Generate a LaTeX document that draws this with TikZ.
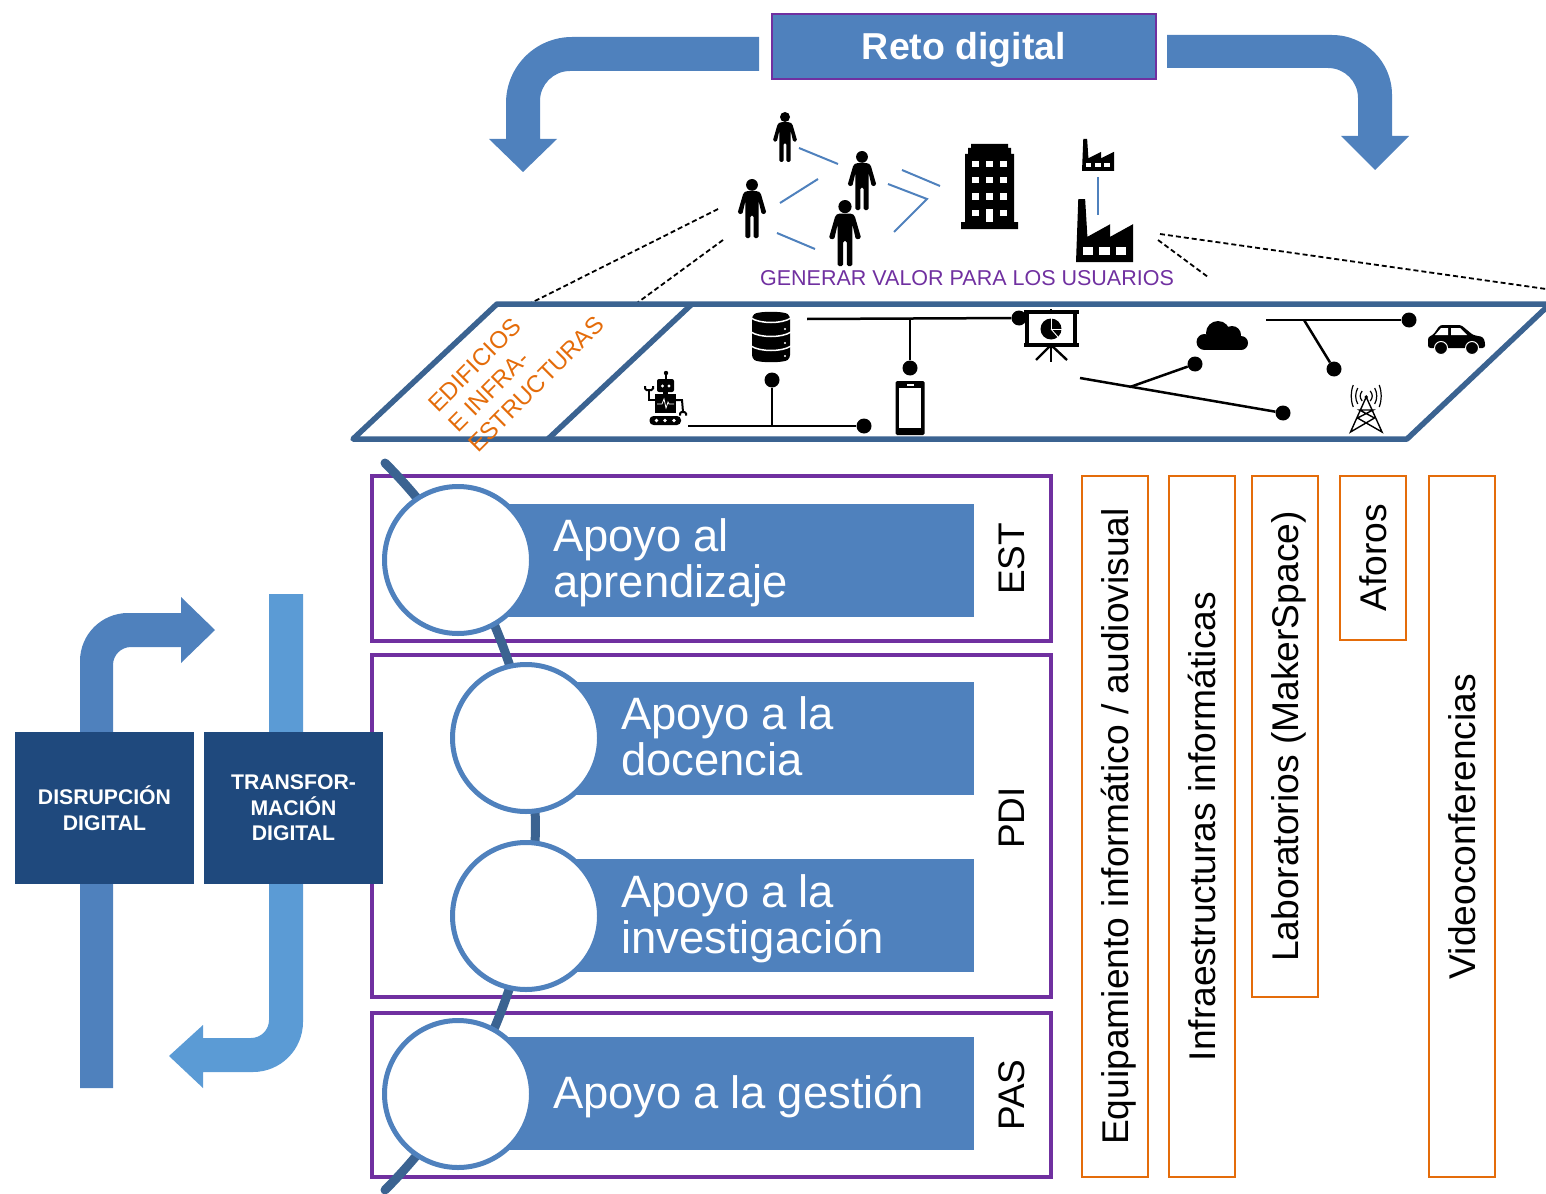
\documentclass[tikz,border=0pt]{standalone}
\usepackage{fontspec}
\setmainfont{Liberation Sans}
\definecolor{retoblue}{HTML}{4F81BD}
\definecolor{lightblue}{HTML}{5B9BD5}
\definecolor{darkblue}{HTML}{1F497D}
\definecolor{edgeblue}{HTML}{3B6391}
\definecolor{framepurple}{HTML}{7030A0}
\definecolor{boxorange}{HTML}{E46C0A}
\newcommand{\apoyofont}{\fontsize{45.4}{46}\selectfont\spaceskip 0.26em\relax}
\tikzset{
	retobox/.style={draw=framepurple,line width=1.5pt,fill=retoblue,text=white,font=\fontsize{37.5}{37.5}\selectfont\bfseries,minimum width=384pt,minimum height=65pt,text height=27pt,text depth=0pt},
	darkbox/.style={fill=darkblue,text=white,font=\fontsize{21.2}{25.5}\selectfont\bfseries,align=center,minimum width=179pt,minimum height=152pt,inner sep=0pt},
	groupframe/.style={draw=framepurple,line width=4.5pt,minimum width=679pt},
	grouplabel/.style={rotate=90,font=\fontsize{37}{37}\selectfont},
	apoyobar/.style={fill=retoblue,anchor=west,minimum height=113pt,inner sep=0pt},
	apoyotext/.style={text=white,font=\apoyofont,align=left,anchor=west,inner sep=0pt},
	apoyocircle/.style={circle,draw=retoblue,line width=5pt,fill=white,minimum size=147pt,inner sep=0pt},
	servicebox/.style={draw=boxorange,line width=2pt,fill=white,rotate=90,font=\fontsize{37.2}{37.2}\selectfont,minimum height=66pt,inner sep=0pt,text height=27pt,text depth=0pt},
	netdot/.style={circle,fill=black,minimum size=15pt,inner sep=0pt},
	netline/.style={line width=2.5pt},
	userlink/.style={draw=retoblue,line width=2pt},
	dashlink/.style={line width=1.8pt,dash pattern=on 5pt off 3pt},
	person/.pic={
		\fill (0,0.1) circle (0.1);
		\fill[rounded corners=1.5pt] (-0.10,0.205) -- (0.10,0.205) -- (0.145,0.235) -- (0.245,0.58) -- (0.165,0.60) -- (0.112,0.37) -- (0.112,1) -- (0.028,1) -- (0.028,0.62) -- (-0.028,0.62) -- (-0.028,1) -- (-0.112,1) -- (-0.112,0.37) -- (-0.165,0.60) -- (-0.245,0.58) -- (-0.145,0.235) -- cycle;
	},
	factory/.pic={
		\fill (0,1) -- (0.04,0) -- (0.16,0) -- (0.2,0.6) -- (0.6,0.4) -- (0.6,0.6) -- (1,0.4) -- (1,1) -- cycle;
		\fill[white] (0.12,0.76) rectangle (0.29,0.89);
		\fill[white] (0.41,0.76) rectangle (0.59,0.89);
		\fill[white] (0.70,0.76) rectangle (0.88,0.89);
	},
	building/.pic={
		\fill (0,85) -- (0,78) -- (4,78) -- (4,10) -- (7,10) -- (7,4) -- (10,4) -- (10,0) -- (47,0) -- (47,4) -- (50,4) -- (50,10) -- (53,10) -- (53,78) -- (57,78) -- (57,85) -- cycle;
		\foreach \wx in {11,25,39} \foreach \wy in {17,33,49}
			\fill[white] (\wx,\wy) rectangle ++(6.5,6.5);
		\fill[white] (11,66) rectangle (17.5,72);
		\fill[white] (39,66) rectangle (45.5,72);
		\fill[white] (25,65) rectangle (31.5,78);
	},
	database/.pic={
		\fill[rounded corners=3pt] (0,4) .. controls (6,-1) and (32,-1) .. (38,4) -- (38,46) .. controls (32,51) and (6,51) .. (0,46) -- cycle;
		\foreach \gy in {6,20,34}
			\draw[white,line width=1.5pt] (-1,\gy) .. controls (8,\gy+6) and (30,\gy+6) .. (39,\gy);
		\foreach \gy in {17,31,44}
			\fill[white] (33,\gy) circle (1.2);
	},
	robot/.pic={
		\fill (22,2) circle (2.2);
		\draw[line width=1.2pt] (22,2) -- (22,8);
		\fill[rounded corners=2pt] (13,8) rectangle (30,21);
		\fill[white] (18.5,15) circle (1.6) (25,15) circle (1.6);
		\fill (19,21) rectangle (24,23);
		\fill (11,23) rectangle (32,42);
		\draw[white,line width=0.8pt] (13,33) -- (18,33) -- (20,28) -- (22,37) -- (24,31) -- (25,33) -- (30,33);
		\draw[line width=2pt] (11,29) -- (5,29) -- (5,19);
		\draw[line width=2pt,rounded corners=1.5pt] (1,15) -- (1,19) -- (9,19) -- (9,15);
		\draw[line width=2pt] (32,29) -- (38,29) -- (39,41);
		\draw[line width=2pt,rounded corners=1.5pt] (36,44.5) -- (36,41) -- (42,41) -- (42,44.5);
		\fill[rounded corners=4pt] (5.5,45) rectangle (37,54);
		\foreach \tx in {12.5,21,30}
			\fill[white] (\tx,49.5) circle (1.8);
	},
	phone/.pic={
		\fill[rounded corners=1.5pt] (0,0) rectangle (29,54);
		\fill[white] (3,7) rectangle (25.5,47);
		\fill[white] (11,3) rectangle (18,4.5);
	},
	projector/.pic={
		\draw[line width=3.2pt] (0,3) -- (55,3);
		\draw[line width=3.2pt] (0,36) -- (55,36);
		\draw[line width=3.2pt] (3,3) -- (3,36);
		\draw[line width=3.2pt] (51,3) -- (51,36);
		\draw[line width=2pt] (27,0) -- (27,3);
		\draw[line width=2.4pt] (27,36) -- (27,53);
		\draw[line width=2.4pt] (27,36) -- (12,51);
		\draw[line width=2.4pt] (27,36) -- (43,51);
		\fill (27,20) circle (10.5);
		\draw[white,line width=0.9pt] (27,9) -- (27,20) -- (38,20);
		\draw[white,line width=0.9pt] (27,20) -- (34,28);
	},
	cloud/.pic={
		\fill (21,12) circle (12);
		\fill (35,14) circle (9);
		\fill (7.5,21) circle (8);
		\fill (44,22) circle (7);
		\fill (7.5,19) rectangle (44,29);
	},
	car/.pic={
		\fill[rounded corners=2.5pt] (0,23) -- (0,12) -- (5,10) -- (12,0) -- (33,0) -- (45,10) -- (55,12) -- (57,17) -- (57,23) -- cycle;
		\fill[white] (7,10) -- (13,3) -- (20,3) -- (20,10) -- cycle;
		\fill[white] (23,3) -- (32,3) -- (39,10) -- (23,10) -- cycle;
		\fill (13,23) circle (6.5);
		\fill (44,23) circle (6.5);
		\draw[white,line width=1pt] (13,23) circle (6.5);
		\draw[white,line width=1pt] (44,23) circle (6.5);
		\fill (13,23) circle (5);
		\fill (44,23) circle (5);
	},
	tower/.pic={
		\fill (15.7,12) circle (1.8);
		\draw[line width=1.4pt] (15.7,12) -- (0,47) -- (24,33) -- (9,25) -- (22.5,25) -- (7,33) -- (31.5,47) -- cycle;
		\foreach \rr/\hh in {6/5,10.5/8,15/11} {
			\draw[line width=1.2pt] (15.7-\rr+2,11-\hh) .. controls (15.7-\rr-0.7,11-\hh/3) and (15.7-\rr-0.7,11+\hh/3) .. (15.7-\rr+2,11+\hh);
			\draw[line width=1.2pt] (15.7+\rr-2,11-\hh) .. controls (15.7+\rr+0.7,11-\hh/3) and (15.7+\rr+0.7,11+\hh/3) .. (15.7+\rr-2,11+\hh);
		}
	},
}
\begin{document}
\begin{tikzpicture}[x=1pt,y=-1pt]
		\useasboundingbox (0,0) rectangle (1546,1193);
		\clip (0,0) rectangle (1546,1193);
		% top arrows
		\fill[retoblue] (759,37) [rounded corners=66pt] -- (506,37) [sharp corners] -- (506,139) -- (489,139) -- (523,172) -- (557,139) -- (540,139) [rounded corners=30pt] -- (540,71) [sharp corners] -- (759,71) -- cycle;
		\fill[retoblue] (1167,35) [rounded corners=60pt] -- (1392,35) [sharp corners] -- (1392,136) -- (1409,136) -- (1375,170) -- (1341,136) -- (1358,136) [rounded corners=30pt] -- (1358,68) [sharp corners] -- (1167,68) -- cycle;
		\node [retobox] (reto) at (964,46.5) {Reto digital};
		% users
		\pic [scale=50] at (785,112) {person};
		\pic [scale=59] at (862,151) {person};
		\pic [scale=59] at (752,179) {person};
		\pic [scale=66] at (845,200) {person};
		\pic at (961,144) {building};
		\pic [xscale=32,yscale=32] at (1082,139) {factory};
		\pic [xscale=57,yscale=63] at (1076,199) {factory};
		% user links
		\coordinate (ua) at (799,148); \coordinate (ub) at (838,164);
		\coordinate (uc) at (818,179); \coordinate (ud) at (780,203);
		\coordinate (ue) at (777,233); \coordinate (uf) at (815,249);
		\coordinate (ug) at (902,170); \coordinate (uh) at (940,186);
		\coordinate (ui) at (888,184); \coordinate (uj) at (927,199);
		\coordinate (uk) at (894,232);
		\coordinate (fa) at (1098,177); \coordinate (fb) at (1098,215);
		\draw[userlink] (ua) -- (ub);
		\draw[userlink] (uc) -- (ud);
		\draw[userlink] (ue) -- (uf);
		\draw[userlink] (ug) -- (uh);
		\draw[userlink] (ui) -- (uj) -- (uk);
		\draw[userlink] (fa) -- (fb);
		\node [text=framepurple,font=\fontsize{21.5}{22}\selectfont,inner sep=0pt] (valor) at (967,278) {GENERAR VALOR PARA LOS USUARIOS};
		% zoom lines
		\coordinate (za) at (718,209); \coordinate (zb) at (527,305);
		\coordinate (zc) at (723,240); \coordinate (zd) at (637,303);
		\coordinate (ze) at (1160,234); \coordinate (zf) at (1546,289);
		\coordinate (zg) at (1158,240); \coordinate (zh) at (1208,277);
		\draw[dashlink] (za) -- (zb);
		\draw[dashlink] (zc) -- (zd);
		\draw[dashlink] (ze) -- (zf);
		\draw[dashlink] (zg) -- (zh);
		% platform
		\draw[edgeblue,line width=5.5pt,line join=round] (497,304) -- (1550,304) -- (1407,439) -- (353,439) -- cycle;
		\coordinate (pa) at (692,304); \coordinate (pb) at (548,439);
		\draw[edgeblue,line width=5.5pt] (pa) -- (pb);
		\node [rotate=45,text=boxorange,font=\fontsize{24}{28.5}\selectfont,align=left,inner sep=0pt] (edificios) at (516,364) {EDIFICIOS\\E INFRA-\\ESTRUCTURAS};
		\pic at (644,371) {robot};
		\pic at (752,312) {database};
		\pic at (895.5,381) {phone};
		\pic at (1024,309) {projector};
		\pic at (1197,321) {cloud};
		\pic at (1428,325) {car};
		\pic at (1350.5,385) {tower};
		% network
		\node [netdot] (da) at (864,426) {};
		\node [netdot] (db) at (772,380) {};
		\node [netdot] (dc) at (1019,318) {};
		\node [netdot] (dd) at (910,368) {};
		\node [netdot] (de) at (1283,413) {};
		\node [netdot] (df) at (1195,364) {};
		\node [netdot] (dg) at (1409,320) {};
		\node [netdot] (dh) at (1334,369) {};
		\coordinate (na) at (688,426); \coordinate (nb) at (772,426);
		\coordinate (nc) at (807,319); \coordinate (nd) at (910,319);
		\coordinate (ne) at (1080,378); \coordinate (nf) at (1130,387);
		\coordinate (ng) at (1266,320); \coordinate (nh) at (1304,320);
		\draw[netline] (na) -- (da);
		\draw[netline] (nb) -- (db);
		\draw[netline] (nc) -- (dc);
		\draw[netline] (nd) -- (dd);
		\draw[netline] (ne) -- (de);
		\draw[netline] (nf) -- (df);
		\draw[netline] (ng) -- (dg);
		\draw[netline] (nh) -- (dh);
		% groups
		\node [groupframe,minimum height=165pt] (frameest) at (711.5,558.5) {};
		\node [groupframe,minimum height=342pt] (framepdi) at (711.5,826) {};
		\node [groupframe,minimum height=164pt] (framepas) at (711.5,1095) {};
		\node [grouplabel] (est) at (1012,559) {EST};
		\node [grouplabel] (pdi) at (1012,818) {PDI};
		\node [grouplabel] (pas) at (1012,1095) {PAS};
		% spine
		\coordinate (spinetop) at (385,463);
		\coordinate (spinebottom) at (385,1190);
		\draw[edgeblue,line width=9pt,line cap=round] (spinetop) to[bend left=45] (spinebottom);
		% support
		\node [apoyobar,minimum width=479pt] (baprendizaje) at (495,560.5) {};
		\node [apoyobar,minimum width=411pt] (bdocencia) at (563,738.5) {};
		\node [apoyobar,minimum width=411pt] (binvestigacion) at (563,915.5) {};
		\node [apoyobar,minimum width=479pt] (bgestion) at (495,1093.5) {};
		\node [apoyocircle] (caprendizaje) at (458,560) {};
		\node [apoyocircle] (cdocencia) at (526,738) {};
		\node [apoyocircle] (cinvestigacion) at (526,916) {};
		\node [apoyocircle] (cgestion) at (458,1094) {};
		\node [apoyotext] (taprendizaje) at (553,563) {Apoyo al\\aprendizaje};
		\node [apoyotext] (tdocencia) at (621,736.5) {Apoyo a la\\docencia};
		\node [apoyotext] (tinvestigacion) at (621,918.5) {Apoyo a la\\investigación};
		\node [apoyotext] (tgestion) at (553,1096.5) {Apoyo a la gestión};
		% services
		\node [servicebox,minimum width=701pt] (equipamiento) at (1115,826.5) {Equipamiento informático / audiovisual};
		\node [servicebox,minimum width=701pt] (infraestructuras) at (1201.5,826.5) {Infraestructuras informáticas};
		\node [servicebox,minimum width=521pt] (laboratorios) at (1284.5,736.5) {Laboratorios (MakerSpace)};
		\node [servicebox,minimum width=164pt] (aforos) at (1373,558) {Aforos};
		\node [servicebox,minimum width=701pt] (video) at (1462,826.5) {Videoconferencias};
		% side arrows
		\fill[retoblue] (80,1088) [rounded corners=48pt] -- (80,613) [sharp corners] -- (181,613) -- (181,597) -- (215,630) -- (181,663) -- (181,647) [rounded corners=18pt] -- (113,647) [sharp corners] -- (113,1088) -- cycle;
		\fill[lightblue] (269,594) -- (303,594) [rounded corners=50pt] -- (303,1072) [sharp corners] -- (203,1072) -- (203,1088) -- (169,1056) -- (203,1025) -- (203,1038) [rounded corners=18pt] -- (269,1038) [sharp corners] -- cycle;
		\node [darkbox] (disrupcion) at (104.5,808) {DISRUPCIÓN\\DIGITAL};
		\node [darkbox] (transformacion) at (293.5,808) {TRANSFOR-\\MACIÓN\\DIGITAL};
	\end{tikzpicture}
\end{document}
